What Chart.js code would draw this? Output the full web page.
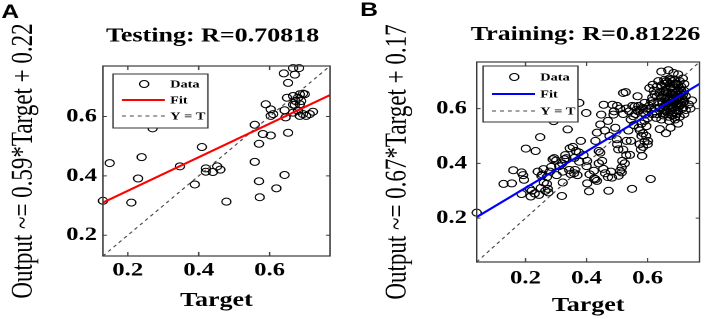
<!DOCTYPE html>
<html><head><meta charset="utf-8">
<script src="https://cdn.jsdelivr.net/npm/chart.js@4.4.1/dist/chart.umd.min.js"></script>
<style>
html,body{margin:0;padding:0;background:#fff;width:706px;height:319px;overflow:hidden}
.panel{position:absolute;top:0;transform-origin:0 0;transform:scaleX(1.3)}
</style></head><body>
<div class="panel" style="left:0"><canvas id="ca" width="273" height="319"></canvas></div>
<div class="panel" style="left:355px"><canvas id="cb" width="270" height="319"></canvas></div>
<script>
// ---------- data ----------
const tickValues = [0.2, 0.4, 0.6];
const tickLabels = ['0.2', '0.4', '0.6'];
const legendLabels = ['Data', 'Fit', 'Y = T'];

// Panel A (Testing)
const testTargets = [0.130,0.149,0.210,0.229,0.239,0.270,0.347,0.389,0.409,0.420,
  0.420,0.440,0.452,0.461,0.478,0.558,0.558,0.570,0.570,0.572,
  0.581,0.589,0.603,0.603,0.610,0.603,0.619,0.640,0.642,0.642,
  0.645,0.652,0.652,0.649,0.666,0.671,0.683,0.666,0.673,0.671,
  0.680,0.685,0.694,0.699,0.689,0.680,0.666,0.685,0.694,0.703,
  0.713,0.722,0.685,0.666];
const testOutputs = [0.316,0.443,0.310,0.391,0.463,0.560,0.432,0.371,0.497,0.425,
  0.414,0.413,0.432,0.421,0.313,0.572,0.447,0.508,0.382,0.328,
  0.541,0.641,0.602,0.624,0.608,0.536,0.358,0.745,0.403,0.621,
  0.597,0.713,0.545,0.663,0.763,0.741,0.763,0.669,0.652,0.639,
  0.663,0.675,0.677,0.675,0.652,0.619,0.613,0.602,0.608,0.602,
  0.608,0.616,0.641,0.640];
const testFitX = [0.13, 0.77];
const testFitY = [0.31, 0.672];
const testIdentity = [0.13, 0.77];

// Panel B (Training)
const trainTargets = [
  0.040,0.128,0.155,0.160,0.187,0.192,0.187,0.214,0.217,0.244,
  0.201,0.233,0.248,0.252,0.259,0.270,0.273,0.275,0.284,0.289,
  0.294,0.302,0.319,0.322,0.322,0.327,0.334,0.338,0.343,0.348,
  0.359,0.362,0.370,0.365,0.376,0.381,0.376,0.399,0.402,0.408,
  0.402,0.424,0.434,0.429,0.440,0.445,0.429,0.434,0.445,0.451,
  0.448,0.456,0.461,0.472,0.483,0.485,0.488,0.494,0.499,0.504,
  0.510,0.515,0.517,0.520,0.528,0.531,0.537,0.542,0.545,0.549,
  0.553,0.558,0.564,0.567,0.569,0.571,0.574,0.578,0.580,0.582,
  0.585,0.590,0.592,0.596,0.601,0.606,0.610,0.612,0.617,0.623,
  0.623,0.628,0.292,
  0.53,0.54,0.55,0.56,0.57,0.575,0.585,0.595,0.60,0.605,
  0.61,0.615,0.60,0.59,0.58,0.575,0.585,0.595,0.59,0.585,
  0.60,0.555,0.545,0.52,0.51,0.50,0.49,0.47,0.46,0.475,
  0.50,0.52,0.53,0.525,0.515,0.505,0.48,0.47,0.455,0.44,
  0.425,0.41,0.40,0.39,0.375,0.36,0.355,0.345,0.33,0.32,
  0.31,0.30,0.28,0.27,0.26,0.25,0.265,0.255,0.24,0.23,
  0.22,0.195,
  0.645,0.668,0.685,0.70,
  0.635,0.655,0.672,0.69,0.705,0.715,
  0.63,0.645,0.66,0.675,0.685,0.70,0.71,0.72,
  0.62,0.64,0.655,0.665,0.68,0.69,0.70,0.71,0.72,
  0.615,0.63,0.645,0.66,0.67,0.68,0.695,0.705,0.715,0.725,
  0.62,0.635,0.65,0.665,0.675,0.69,0.70,0.71,0.72,0.735,
  0.625,0.64,0.655,0.665,0.68,0.69,0.70,0.715,0.725,
  0.63,0.65,0.665,0.68,0.695,0.705,0.72,
  0.645,0.67,0.69,0.70,
  0.64,0.66,0.675,0.745,0.74,
  0.655,0.665,0.68,0.695,0.705,0.66,0.675,0.69,0.65,0.66,
  0.675,0.685,0.70,0.71,0.655,0.665,0.685,0.695,0.705,0.66,
  0.67,0.685,0.695,0.705,0.655,0.67,0.685,0.695,0.675,0.66,
  0.70,0.68,0.69,0.67,0.655,0.715,0.715,0.675,0.66,0.69];
const trainOutputs = [
  0.220,0.325,0.327,0.375,0.367,0.357,0.288,0.307,0.279,0.285,
  0.454,0.445,0.496,0.355,0.379,0.325,0.307,0.294,0.387,0.415,
  0.419,0.357,0.281,0.330,0.370,0.415,0.419,0.524,0.376,0.361,
  0.364,0.376,0.357,0.445,0.406,0.482,0.621,0.584,0.409,0.298,
  0.327,0.373,0.336,0.342,0.445,0.439,0.482,0.512,0.542,0.409,
  0.578,0.614,0.364,0.300,0.348,0.614,0.578,0.530,0.488,0.451,
  0.373,0.367,0.409,0.657,0.660,0.482,0.520,0.431,0.482,0.307,
  0.572,0.608,0.596,0.645,0.590,0.530,0.470,0.451,0.500,0.427,
  0.602,0.621,0.578,0.536,0.482,0.675,0.343,0.627,0.687,0.651,
  0.590,0.566,0.554,
  0.60,0.59,0.61,0.58,0.61,0.595,0.585,0.60,0.59,0.61,
  0.60,0.58,0.565,0.555,0.545,0.52,0.51,0.50,0.48,0.46,
  0.47,0.54,0.56,0.58,0.60,0.61,0.59,0.555,0.52,0.50,
  0.47,0.45,0.43,0.40,0.385,0.355,0.37,0.35,0.38,0.40,
  0.345,0.36,0.39,0.43,0.44,0.42,0.46,0.455,0.43,0.40,
  0.39,0.41,0.37,0.35,0.33,0.31,0.30,0.36,0.37,0.29,
  0.30,0.34,
  0.735,0.74,0.73,0.725,
  0.70,0.705,0.71,0.705,0.70,0.71,
  0.68,0.685,0.68,0.69,0.68,0.685,0.68,0.69,
  0.665,0.66,0.665,0.655,0.665,0.66,0.665,0.655,0.665,
  0.64,0.645,0.64,0.645,0.635,0.645,0.64,0.645,0.635,0.645,
  0.62,0.625,0.62,0.625,0.615,0.625,0.62,0.615,0.625,0.615,
  0.60,0.605,0.595,0.605,0.60,0.595,0.605,0.60,0.595,
  0.58,0.575,0.585,0.575,0.58,0.57,0.58,
  0.56,0.555,0.56,0.545,
  0.525,0.51,0.53,0.63,0.60,
  0.69,0.695,0.70,0.69,0.675,0.67,0.675,0.675,0.65,0.66,
  0.655,0.65,0.65,0.665,0.635,0.64,0.635,0.63,0.63,0.615,
  0.62,0.62,0.61,0.61,0.61,0.60,0.605,0.615,0.59,0.59,
  0.59,0.585,0.57,0.57,0.58,0.65,0.62,0.705,0.70,0.69];
const trainFitX = [0.04, 0.77];
const trainFitY = [0.204, 0.69];
const trainIdentity = [0.04, 0.77];

// ---------- rendering ----------
const SERIF = '"Liberation Serif","Times New Roman",serif';
const SANS = '"Liberation Sans",Arial,sans-serif';
const zip = (xs, ys) => xs.map((v, i) => ({x: v, y: ys[i]}));

const framePlugin = {
  id: 'frame',
  afterDatasetsDraw(chart, args, o) {
    const {ctx, chartArea: a} = chart;
    const xs = chart.scales.x, ys = chart.scales.y;
    ctx.save();
    ctx.setLineDash([]);
    ctx.strokeStyle = '#3a3a3a';
    ctx.lineWidth = 1.2;
    ctx.strokeRect(a.left, a.top, a.right - a.left, a.bottom - a.top);
    ctx.lineWidth = 1;
    ctx.beginPath();
    xs.ticks.forEach(t => {
      const p = xs.getPixelForValue(t.value);
      ctx.moveTo(p, a.bottom); ctx.lineTo(p, a.bottom - 4);
      ctx.moveTo(p, a.top); ctx.lineTo(p, a.top + 4);
    });
    ys.ticks.forEach(t => {
      const p = ys.getPixelForValue(t.value);
      ctx.moveTo(a.left, p); ctx.lineTo(a.left + 3, p);
      ctx.moveTo(a.right, p); ctx.lineTo(a.right - 3, p);
    });
    ctx.stroke();
    // legend
    const L = o.legend;
    ctx.fillStyle = '#fff';
    ctx.fillRect(L.x, L.y, L.w, L.h);
    ctx.strokeStyle = '#333';
    ctx.lineWidth = 1;
    ctx.strokeRect(L.x, L.y, L.w, L.h);
    const ds = chart.data.datasets;
    const rows = [ds[2], ds[0], ds[1]];
    ctx.font = 'bold 11px ' + SERIF;
    ctx.textBaseline = 'middle';
    ctx.textAlign = 'left';
    rows.forEach((d, i) => {
      const ry = L.y + L.rows[i];
      if (d.showLine) {
        ctx.strokeStyle = d.borderColor;
        ctx.lineWidth = d.borderWidth;
        ctx.setLineDash(d.borderDash || []);
        ctx.beginPath(); ctx.moveTo(L.x + 7, ry); ctx.lineTo(L.x + 40, ry); ctx.stroke();
        ctx.setLineDash([]);
      } else {
        ctx.strokeStyle = d.pointBorderColor;
        ctx.lineWidth = d.pointBorderWidth;
        ctx.beginPath(); ctx.arc(L.x + 24, ry, d.pointRadius, 0, Math.PI * 2); ctx.stroke();
      }
      ctx.fillStyle = '#000';
      ctx.fillText(d.label, L.x + 44, ry + 0.5);
    });
    ctx.restore();
  },
  afterDraw(chart, args, o) {
    const ctx = chart.ctx;
    ctx.save();
    ctx.fillStyle = '#000';
    ctx.textBaseline = 'alphabetic';
    ctx.textAlign = 'center';
    ctx.font = 'bold 20px ' + SERIF;
    ctx.fillText(o.title, o.titleX, o.titleY);
    ctx.textAlign = 'left';
    ctx.font = 'bold 19px ' + SANS;
    ctx.fillText(o.letter, o.letterX, o.letterY);
    ctx.restore();
  }
};

function makePanel(canvasId, c) {
  const tickFont = {size: 19, weight: 'bold', family: SERIF};
  return new Chart(document.getElementById(canvasId), {
    type: 'scatter',
    data: {
      datasets: [
        {label: legendLabels[1], data: zip(c.fitX, c.fitY), showLine: true,
         borderColor: c.fitColor, borderWidth: 2, pointRadius: 0, fill: false},
        {label: legendLabels[2], data: zip(c.ident, c.ident), showLine: true,
         borderColor: '#444', borderWidth: 1, borderDash: [3, 3], pointRadius: 0, fill: false},
        {label: legendLabels[0], data: zip(c.tx, c.ty), showLine: false, clip: false,
         pointRadius: 3.5, pointBorderWidth: 1, pointBorderColor: '#000',
         pointBackgroundColor: 'rgba(0,0,0,0)', borderColor: '#000', backgroundColor: 'rgba(0,0,0,0)'}
      ]
    },
    options: {
      responsive: false,
      animation: false,
      devicePixelRatio: 2,
      events: [],
      layout: {padding: {top: c.padTop, right: c.padRight, bottom: 0, left: 0}},
      plugins: {
        legend: {display: false},
        tooltip: {enabled: false},
        title: {display: false},
        frame: {legend: c.legend, title: c.title, titleX: c.titleX, titleY: c.titleY,
                letter: c.letter, letterX: c.letterX, letterY: c.letterY}
      },
      scales: {
        x: {
          type: 'linear', min: c.min, max: c.max,
          afterBuildTicks: s => { s.ticks = tickValues.map(v => ({value: v})); },
          afterFit: s => { s.height = c.xH; },
          grid: {display: false, drawTicks: false},
          border: {display: false},
          ticks: {padding: c.xTickPad, color: '#000', font: tickFont, maxRotation: 0,
                  callback: (v, i) => tickLabels[i]},
          title: {display: true, text: 'Target', color: '#000',
                  font: {size: 20, weight: 'bold', family: SERIF},
                  padding: {top: 0, bottom: c.xTitlePad}}
        },
        y: {
          type: 'linear', min: c.min, max: c.max,
          afterBuildTicks: s => { s.ticks = tickValues.map(v => ({value: v})); },
          afterFit: s => { s.width = c.yW; },
          grid: {display: false, drawTicks: false},
          border: {display: false},
          ticks: {padding: c.yTickPad, color: '#000', font: tickFont,
                  callback: (v, i) => tickLabels[i]},
          title: {display: true, text: c.yTitle, color: '#000',
                  font: {size: 23, weight: 'normal', family: SERIF},
                  padding: {top: c.yTitlePad, bottom: 0}}
        }
      }
    },
    plugins: [framePlugin]
  });
}

makePanel('ca', {
  tx: testTargets, ty: testOutputs, fitX: testFitX, fitY: testFitY, ident: testIdentity,
  fitColor: '#ff0000', min: 0.13, max: 0.77,
  padTop: 66, padRight: 19.2, yW: 79.2, xH: 63,
  xTickPad: 3, yTickPad: 4.6, xTitlePad: 6, yTitlePad: 4.7,
  yTitle: 'Output ~= 0.59*Target + 0.22',
  title: 'Testing: R=0.70818', titleX: 163.5, titleY: 41.7,
  letter: 'A', letterX: 1, letterY: 18,
  legend: {x: 86.9, y: 74, w: 73, h: 54, rows: [10, 26, 42]}
});

makePanel('cb', {
  tx: trainTargets, ty: trainOutputs, fitX: trainFitX, fitY: trainFitY, ident: trainIdentity,
  fitColor: '#0000ff', min: 0.04, max: 0.77,
  padTop: 62, padRight: 1.5, yW: 93.6, xH: 57,
  xTickPad: 5, yTickPad: 7.5, xTitlePad: 1, yTitlePad: 19.2,
  yTitle: 'Output ~= 0.67*Target + 0.17',
  title: 'Training: R=0.81226', titleX: 177.3, titleY: 40,
  letter: 'B', letterX: 4, letterY: 16,
  legend: {x: 98.5, y: 66, w: 73, h: 56, rows: [11, 28, 45]}
});
</script>
</body></html>
